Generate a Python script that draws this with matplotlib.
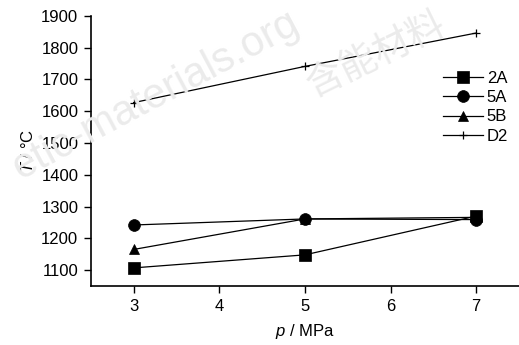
import matplotlib
matplotlib.use("Agg")
import matplotlib.pyplot as plt

plt.rcParams['font.family'] = ['Liberation Sans', 'Noto Sans CJK SC', 'DejaVu Sans']
plt.rcParams['mathtext.fontset'] = 'custom'
plt.rcParams['mathtext.it'] = 'Liberation Sans:italic'
plt.rcParams['mathtext.rm'] = 'Liberation Sans'

# data
pressure = [3, 5, 7]
t_2a = [1107, 1148, 1270]
t_5a = [1242, 1261, 1259]
t_5b = [1165, 1261, 1266]
t_d2 = [1627, 1741, 1846]

series = [
    ('2A', t_2a, 's', 8.5),
    ('5A', t_5a, 'o', 8.5),
    ('5B', t_5b, '^', 7.5),
    ('D2', t_d2, '+', 6),
]

fig = plt.figure(figsize=(5.19, 3.45), dpi=100)
ax = fig.add_axes([0.175, 0.171, 0.825, 0.783])

for name, vals, mk, ms in series:
    ax.plot(pressure, vals, color='black', lw=0.9, marker=mk, markersize=ms,
            markeredgewidth=0.9 if mk == '+' else 0.5, label=name)

ax.set_xlim(2.5, 7.5)
ax.set_ylim(1050, 1900)
ax.set_xticks([3, 4, 5, 6, 7])
ax.set_yticks(range(1100, 1901, 100))
ax.tick_params(labelsize=12, length=5, width=1, direction='out', pad=4)
for s in ['top', 'right']:
    ax.spines[s].set_visible(False)
for s in ['left', 'bottom']:
    ax.spines[s].set_linewidth(1.2)

ax.set_xlabel('$p$ / MPa', fontsize=12, labelpad=6)
ax.set_ylabel('$T$ / °C', fontsize=12, labelpad=4)

ax.legend(loc='upper right', bbox_to_anchor=(0.99, 0.82), frameon=False,
          fontsize=12, handlelength=2.4, handletextpad=0.2, labelspacing=0.25,
          borderaxespad=0)

# faint watermark
fig.text(0.01, 0.48, 'etic-materials.org', fontsize=30, color='#ebebeb',
         rotation=28, zorder=0)
fig.text(0.58, 0.72, '含能材料', fontsize=27, color='#ebebeb',
         rotation=26, zorder=0)

fig.savefig('out.png', dpi=100)
